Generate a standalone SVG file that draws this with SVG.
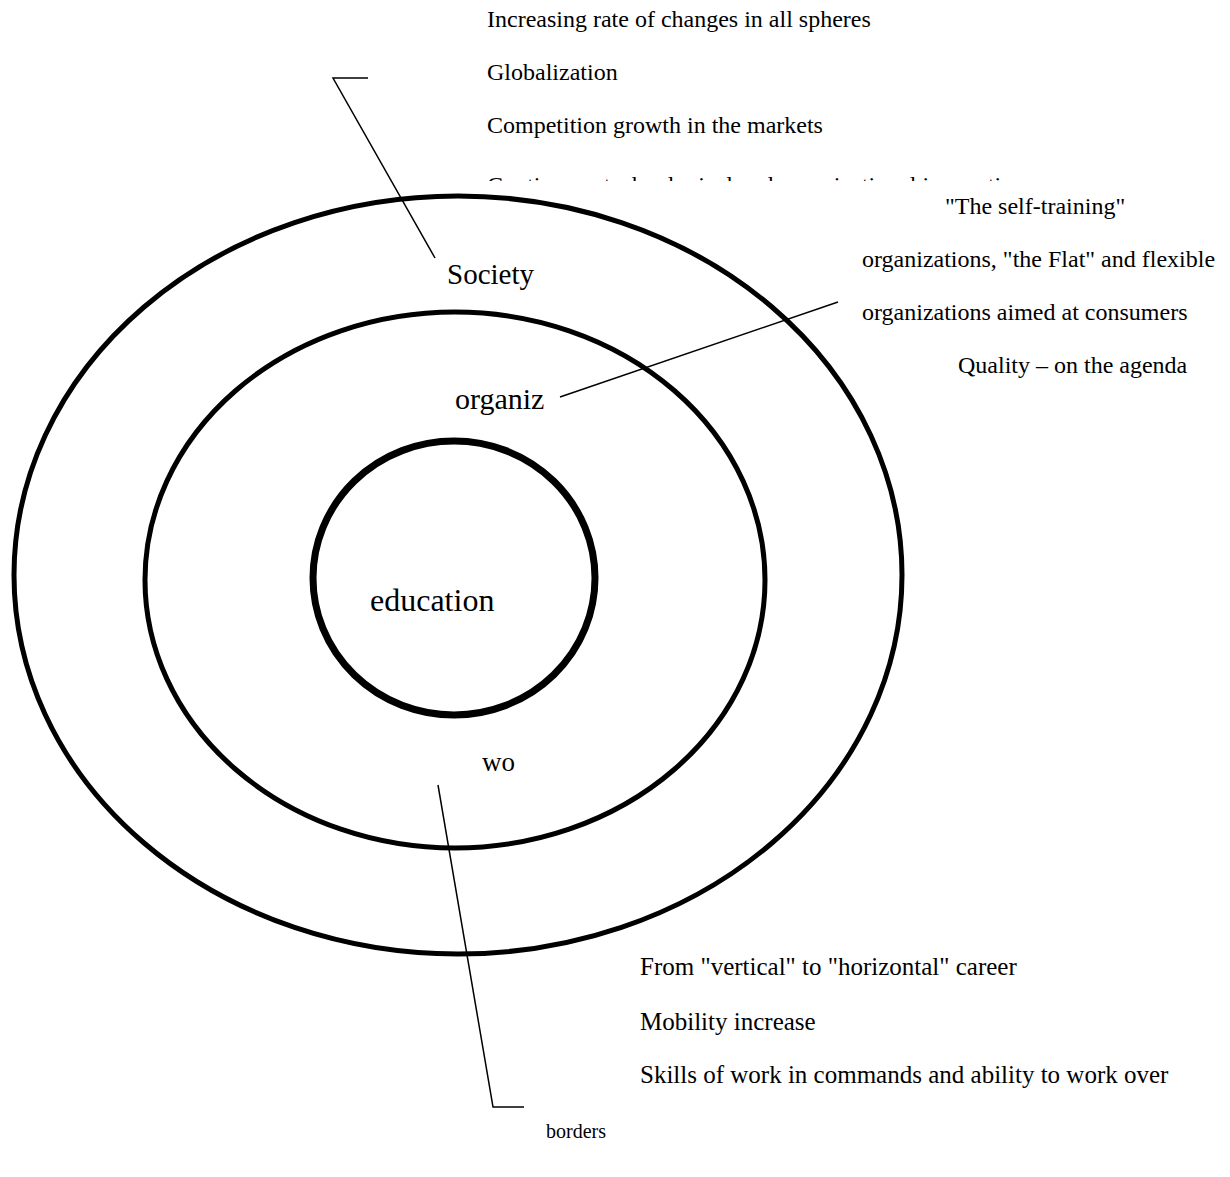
<svg xmlns="http://www.w3.org/2000/svg" width="1230" height="1177" viewBox="0 0 1230 1177">
<style>
text{font-family:"Liberation Serif","Times New Roman",serif;fill:#000}
.s{font-size:24px}
.b{font-size:25px}
.ring{fill:none;stroke:#000;stroke-width:5}
.ln{fill:none;stroke:#000;stroke-width:1.5}
</style>
<defs><clipPath id="clipTop"><rect x="0" y="0" width="1230" height="181"/></clipPath></defs>
<rect width="1230" height="1177" fill="#fff"/>
<g id="society">
<ellipse class="ring" cx="458" cy="575" rx="444" ry="379"/>
<text x="447" y="284" font-size="29">Society</text>
</g>
<g id="organization">
<ellipse class="ring" cx="455" cy="580" rx="310" ry="268"/>
<text x="455" y="409" font-size="30">organiz</text>
</g>
<g id="education">
<ellipse class="ring" style="stroke-width:7" cx="454" cy="578" rx="141" ry="137"/>
<text x="370" y="611" font-size="32">education</text>
</g>
<g id="work">
<text x="482" y="771" font-size="27">wo</text>
</g>
<g id="society-notes" class="s">
<text x="487" y="27">Increasing rate of changes in all spheres</text>
<text x="487" y="80">Globalization</text>
<text x="487" y="133">Competition growth in the markets</text>
<text x="487" y="193" clip-path="url(#clipTop)">Continuous technological and organizational innovations</text>
</g>
<g id="organization-notes" class="s">
<text x="945" y="214">"The self-training"</text>
<text x="862" y="267">organizations, "the Flat" and flexible</text>
<text x="862" y="320">organizations aimed at consumers</text>
<text x="958" y="373">Quality – on the agenda</text>
</g>
<g id="work-notes" class="b">
<text x="640" y="975">From "vertical" to "horizontal" career</text>
<text x="640" y="1030">Mobility increase</text>
<text x="640" y="1083">Skills of work in commands and ability to work over</text>
<text x="546" y="1138" style="font-size:20px">borders</text>
</g>
<g id="connectors">
<polyline class="ln" points="368,78 333,78 435,258"/>
<line class="ln" x1="560" y1="397" x2="838" y2="302"/>
<polyline class="ln" points="438,785 493,1107 524,1107"/>
</g>
</svg>
